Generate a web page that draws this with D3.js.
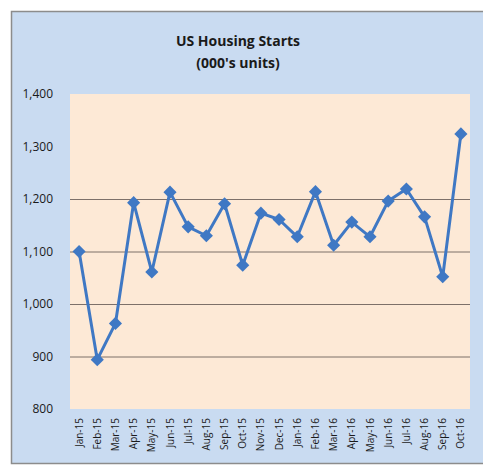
<!DOCTYPE html>
<html>
<head>
<meta charset="utf-8">
<script src="https://cdn.jsdelivr.net/npm/d3@7"></script>
<style>
  body { margin: 0; background: #fff; }
  svg { display: block; font-family: "Open Sans", "Liberation Sans", sans-serif; }
</style>
</head>
<body>
<div id="chart"></div>
<script>
// month labels as printed on the axis
var months = ["Jan-15","Feb-15","Mar-15","Apr-15","May-15","Jun-15","Jul-15","Aug-15","Sep-15","Oct-15","Nov-15","Dec-15",
              "Jan-16","Feb-16","Mar-16","Apr-16","May-16","Jun-16","Jul-16","Aug-16","Sep-16","Oct-16"];
// housing starts, thousands of units
var starts = [1100, 894, 963, 1193, 1061, 1213, 1147, 1130, 1191, 1074, 1173, 1161,
              1128, 1214, 1112, 1156, 1128, 1196, 1219, 1166, 1052, 1324];
var yTicks = [800, 900, 1000, 1100, 1200, 1300, 1400];
var gridVals = [900, 1000, 1100, 1200];

var W = 483, H = 466;
var plot = {left: 70, top: 94, right: 470, bottom: 409};

var svg = d3.select("#chart").append("svg")
    .attr("width", W)
    .attr("height", H);

// chart area background + border
svg.append("rect")
    .attr("x", 11.5).attr("y", 11.5)
    .attr("width", W - 10).attr("height", 452)
    .attr("fill", "#c9dbf1")
    .attr("stroke", "#8c8c8c")
    .attr("stroke-width", 1.5);

// plot area
svg.append("rect")
    .attr("x", plot.left).attr("y", plot.top)
    .attr("width", plot.right - plot.left)
    .attr("height", plot.bottom - plot.top)
    .attr("fill", "#fde9d6");

var x = d3.scaleBand()
    .domain(months)
    .range([plot.left, plot.right]);

var y = d3.scaleLinear()
    .domain([800, 1400])
    .range([plot.bottom, plot.top]);

// gridlines
svg.append("g")
    .selectAll("line")
    .data(gridVals)
    .enter()
    .append("line")
    .attr("x1", plot.left)
    .attr("x2", plot.right)
    .attr("y1", function (d) { return y(d) + 0.5; })
    .attr("y2", function (d) { return y(d) + 0.5; })
    .attr("stroke", "#7d7069")
    .attr("stroke-width", 1);

// y axis labels
var yAxis = svg.append("g")
    .attr("transform", "translate(" + (plot.left - 14) + ",0)")
    .call(d3.axisLeft(y).tickValues(yTicks).tickSize(0).tickFormat(d3.format(",")));
yAxis.select(".domain").remove();
yAxis.selectAll("text")
    .attr("font-size", 12)
    .attr("fill", "#1a1a1a")
    .attr("font-family", "'Open Sans', sans-serif");

// x axis labels, rotated
var xAxis = svg.append("g")
    .attr("transform", "translate(0," + plot.bottom + ")")
    .call(d3.axisBottom(x).tickSize(0));
xAxis.select(".domain").remove();
xAxis.selectAll("text")
    .attr("transform", "rotate(-90)")
    .attr("text-anchor", "end")
    .attr("x", -9)
    .attr("y", 0)
    .attr("dy", "0.35em")
    .attr("font-size", 10)
    .attr("fill", "#1a1a1a")
    .attr("font-family", "'Open Sans', sans-serif");

// line
var line = d3.line()
    .x(function (d, i) { return x(months[i]) + x.bandwidth() / 2; })
    .y(function (d) { return y(d); });

svg.append("path")
    .datum(starts)
    .attr("d", line)
    .attr("fill", "none")
    .attr("stroke", "#3f78c4")
    .attr("stroke-width", 3)
    .attr("stroke-linejoin", "round");

// diamond markers
svg.append("g")
    .selectAll("path")
    .data(starts)
    .enter()
    .append("path")
    .attr("d", d3.symbol().type(d3.symbolDiamond2).size(110))
    .attr("transform", function (d, i) {
        return "translate(" + (x(months[i]) + x.bandwidth() / 2) + "," + y(d) + ")";
    })
    .attr("fill", "#3f78c4");

// title
var title = svg.append("text")
    .attr("x", 238)
    .attr("text-anchor", "middle")
    .attr("font-size", 14)
    .attr("font-weight", "bold")
    .attr("fill", "#1a1a1a")
    .attr("font-family", "'Open Sans', sans-serif");
title.append("tspan").attr("x", 238).attr("y", 46).text("US Housing Starts");
title.append("tspan").attr("x", 238).attr("y", 68).text("(000's units)");
</script>
</body>
</html>
